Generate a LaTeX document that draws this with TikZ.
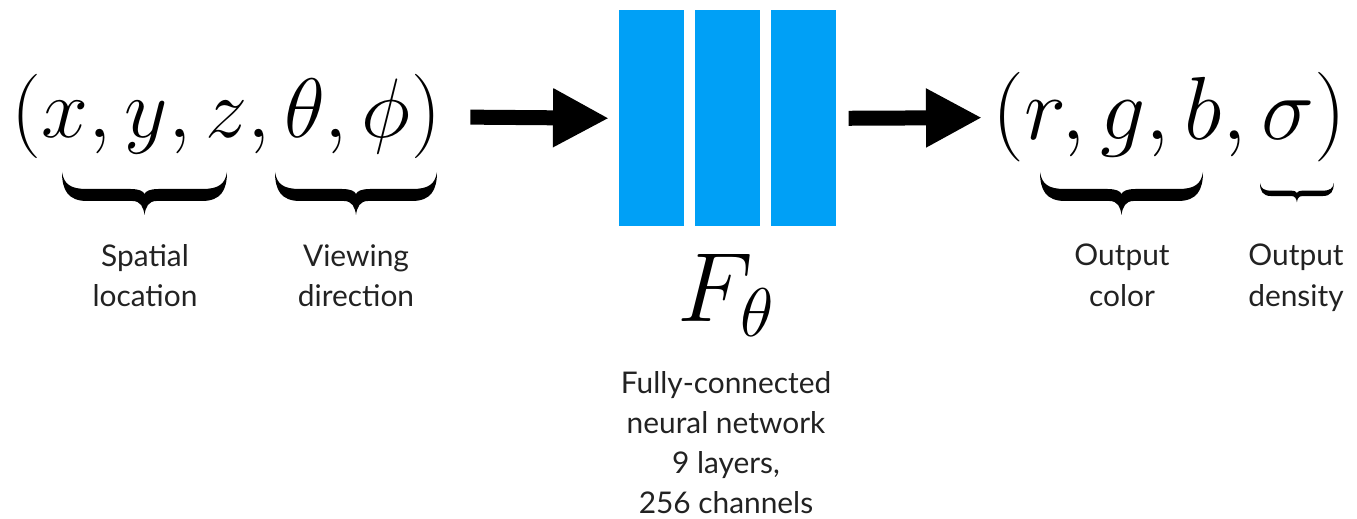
\documentclass[tikz,border=0pt]{standalone}
\usepackage{fix-cm}
\usepackage{fontspec}
\newfontfamily\labelfont{Lato}
\usetikzlibrary{arrows.meta}
\definecolor{layerblue}{RGB}{0,160,246}
\definecolor{labelgray}{RGB}{34,34,34}
\tikzstyle{Layer}=[fill=layerblue, draw=none, inner sep=0, minimum width=1.3cm, minimum height=4.32cm, anchor=north west]
\tikzstyle{Tuple}=[inner sep=0, font=\fontsize{48}{58}\selectfont]
\tikzstyle{Caption}=[inner sep=0, anchor=north, align=center, text=labelgray, font=\labelfont\fontsize{17}{22.8}\selectfont]
\tikzstyle{arrow}=[line width=0.3cm, -{Triangle[length=1.12cm, width=1.1cm]}]
% filled curly brace opening downwards, #1 = width in px
\tikzset{pics/fatbrace/.style={code={
	\fill (0,0) .. controls (0,18) and (6,29) .. (25,29) -- ({#1/2-12},29)
		.. controls ({#1/2-4},29) and ({#1/2-1},35) .. ({#1/2},43)
		.. controls ({#1/2+1},35) and ({#1/2+4},29) .. ({#1/2+12},29) -- ({#1-25},29)
		.. controls ({#1-6},29) and (#1,18) .. (#1,0)
		.. controls ({#1-2},12) and ({#1-8},17) .. ({#1-25},17) -- ({#1/2+14},17)
		.. controls ({#1/2+6},17) and ({#1/2+1},19) .. ({#1/2},22)
		.. controls ({#1/2-1},19) and ({#1/2-6},17) .. ({#1/2-14},17) -- (25,17)
		.. controls (8,17) and (2,12) .. (0,0) -- cycle;
}}}

\begin{document}
\begin{tikzpicture}[x=0.02cm, y=-0.02cm]
	\useasboundingbox (0, 0) rectangle (1357, 519);
	% inputs
	\node [style=Tuple, anchor=base west] (input) at (11, 138) {$(x, y, z, \theta, \phi)$};
	\pic at (62, 172) {fatbrace=165};
	\pic at (275, 172) {fatbrace=162};
	\node [style=Caption] (spatial) at (145, 244) {Spatial\\location};
	\node [style=Caption] (viewing) at (356, 244) {Viewing\\direction};
	% network
	\node [style=Layer] (layer1) at (619, 10) {};
	\node [style=Layer] (layer2) at (695, 10) {};
	\node [style=Layer] (layer3) at (771, 10) {};
	\node [anchor=base, inner sep=0, font=\fontsize{56}{67}\selectfont] (net) at (726, 322) {$F_\theta$};
	\node [style=Caption] (netinfo) at (726, 371) {Fully-connected\\neural network\\9 layers,\\256 channels};
	% outputs
	\node [style=Tuple, anchor=base west, font=\fontsize{51}{61}\selectfont] (output) at (992, 140) {$(r, g, b, \sigma)$};
	\pic at (1040, 172) {fatbrace=163};
	\pic [scale=0.45] at (1260, 183) {fatbrace=164};
	\node [style=Caption] (color) at (1122, 244) {Output\\color};
	\node [style=Caption] (density) at (1296, 244) {Output\\density};

	\draw [style=arrow, shorten <=0.58cm, shorten >=0.2cm] (input.east) -- (layer1.west);
	\draw [style=arrow, shorten <=0.24cm, shorten >=0.2cm] (layer3.east) -- (output.west);
\end{tikzpicture}
\end{document}
